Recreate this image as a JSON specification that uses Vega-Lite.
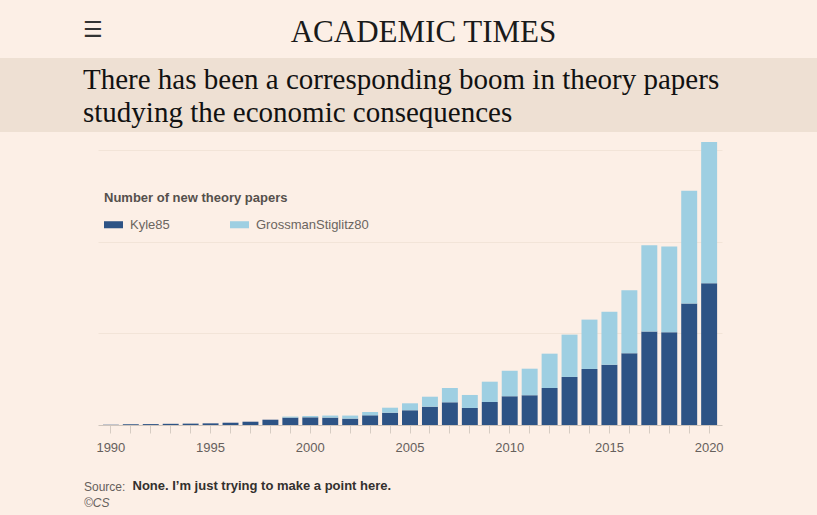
{
  "$schema": "https://vega.github.io/schema/vega-lite/v6.json",
  "background": "#fcefe6",
  "padding": {"left": 0, "right": 0, "top": 0, "bottom": 8},
  "spacing": 0,
  "config": {"view": {"stroke": null}, "font": "Liberation Sans"},
  "datasets": {
    "papers": [
      {"year": 1990, "series": "Kyle85", "k": 0, "papers": 0.3},
      {"year": 1991, "series": "Kyle85", "k": 0, "papers": 0.8},
      {"year": 1992, "series": "Kyle85", "k": 0, "papers": 1.0},
      {"year": 1993, "series": "Kyle85", "k": 0, "papers": 1.3},
      {"year": 1994, "series": "Kyle85", "k": 0, "papers": 1.5},
      {"year": 1995, "series": "Kyle85", "k": 0, "papers": 1.8},
      {"year": 1996, "series": "Kyle85", "k": 0, "papers": 2.5},
      {"year": 1997, "series": "Kyle85", "k": 0, "papers": 3.6},
      {"year": 1998, "series": "Kyle85", "k": 0, "papers": 5.8},
      {"year": 1999, "series": "Kyle85", "k": 0, "papers": 8.1},
      {"year": 2000, "series": "Kyle85", "k": 0, "papers": 8.4},
      {"year": 2001, "series": "Kyle85", "k": 0, "papers": 8.1},
      {"year": 2002, "series": "Kyle85", "k": 0, "papers": 7.0},
      {"year": 2003, "series": "Kyle85", "k": 0, "papers": 10.6},
      {"year": 2004, "series": "Kyle85", "k": 0, "papers": 13.4},
      {"year": 2005, "series": "Kyle85", "k": 0, "papers": 16.1},
      {"year": 2006, "series": "Kyle85", "k": 0, "papers": 20.0},
      {"year": 2007, "series": "Kyle85", "k": 0, "papers": 24.8},
      {"year": 2008, "series": "Kyle85", "k": 0, "papers": 18.6},
      {"year": 2009, "series": "Kyle85", "k": 0, "papers": 25.1},
      {"year": 2010, "series": "Kyle85", "k": 0, "papers": 31.4},
      {"year": 2011, "series": "Kyle85", "k": 0, "papers": 32.5},
      {"year": 2012, "series": "Kyle85", "k": 0, "papers": 40.4},
      {"year": 2013, "series": "Kyle85", "k": 0, "papers": 52.5},
      {"year": 2014, "series": "Kyle85", "k": 0, "papers": 61.2},
      {"year": 2015, "series": "Kyle85", "k": 0, "papers": 65.9},
      {"year": 2016, "series": "Kyle85", "k": 0, "papers": 78.4},
      {"year": 2017, "series": "Kyle85", "k": 0, "papers": 102.0},
      {"year": 2018, "series": "Kyle85", "k": 0, "papers": 101.3},
      {"year": 2019, "series": "Kyle85", "k": 0, "papers": 132.6},
      {"year": 2020, "series": "Kyle85", "k": 0, "papers": 154.9},
      {"year": 1990, "series": "GrossmanStiglitz80", "k": 1, "papers": 0},
      {"year": 1991, "series": "GrossmanStiglitz80", "k": 1, "papers": 0},
      {"year": 1992, "series": "GrossmanStiglitz80", "k": 1, "papers": 0},
      {"year": 1993, "series": "GrossmanStiglitz80", "k": 1, "papers": 0},
      {"year": 1994, "series": "GrossmanStiglitz80", "k": 1, "papers": 0},
      {"year": 1995, "series": "GrossmanStiglitz80", "k": 1, "papers": 0},
      {"year": 1996, "series": "GrossmanStiglitz80", "k": 1, "papers": 0},
      {"year": 1997, "series": "GrossmanStiglitz80", "k": 1, "papers": 0},
      {"year": 1998, "series": "GrossmanStiglitz80", "k": 1, "papers": 0},
      {"year": 1999, "series": "GrossmanStiglitz80", "k": 1, "papers": 1.1},
      {"year": 2000, "series": "GrossmanStiglitz80", "k": 1, "papers": 1.4},
      {"year": 2001, "series": "GrossmanStiglitz80", "k": 1, "papers": 2.2},
      {"year": 2002, "series": "GrossmanStiglitz80", "k": 1, "papers": 3.3},
      {"year": 2003, "series": "GrossmanStiglitz80", "k": 1, "papers": 3.6},
      {"year": 2004, "series": "GrossmanStiglitz80", "k": 1, "papers": 5.5},
      {"year": 2005, "series": "GrossmanStiglitz80", "k": 1, "papers": 7.6},
      {"year": 2006, "series": "GrossmanStiglitz80", "k": 1, "papers": 10.9},
      {"year": 2007, "series": "GrossmanStiglitz80", "k": 1, "papers": 15.6},
      {"year": 2008, "series": "GrossmanStiglitz80", "k": 1, "papers": 14.2},
      {"year": 2009, "series": "GrossmanStiglitz80", "k": 1, "papers": 22.2},
      {"year": 2010, "series": "GrossmanStiglitz80", "k": 1, "papers": 27.9},
      {"year": 2011, "series": "GrossmanStiglitz80", "k": 1, "papers": 29.0},
      {"year": 2012, "series": "GrossmanStiglitz80", "k": 1, "papers": 37.5},
      {"year": 2013, "series": "GrossmanStiglitz80", "k": 1, "papers": 46.2},
      {"year": 2014, "series": "GrossmanStiglitz80", "k": 1, "papers": 53.9},
      {"year": 2015, "series": "GrossmanStiglitz80", "k": 1, "papers": 57.9},
      {"year": 2016, "series": "GrossmanStiglitz80", "k": 1, "papers": 68.8},
      {"year": 2017, "series": "GrossmanStiglitz80", "k": 1, "papers": 94.4},
      {"year": 2018, "series": "GrossmanStiglitz80", "k": 1, "papers": 93.6},
      {"year": 2019, "series": "GrossmanStiglitz80", "k": 1, "papers": 123.1},
      {"year": 2020, "series": "GrossmanStiglitz80", "k": 1, "papers": 154.1}
    ]
  },
  "vconcat": [
    {
      "width": 817,
      "height": 58,
      "data": {"values": [{"name": "ACADEMIC TIMES"}]},
      "title": {
        "text": "☰",
        "anchor": "start",
        "frame": "group",
        "dx": 83,
        "offset": -42,
        "font": "DejaVu Sans",
        "fontSize": 22,
        "fontWeight": "bold",
        "color": "#333333"
      },
      "mark": {
        "type": "text",
        "font": "Liberation Serif",
        "fontSize": 31,
        "color": "#1a1a1a",
        "baseline": "alphabetic",
        "dx": 15,
        "dy": 13
      },
      "encoding": {"text": {"field": "name", "type": "nominal"}}
    },
    {
      "width": 817,
      "height": 74,
      "view": {"fill": "#eee0d3", "stroke": null},
      "data": {"values": [{"t": ""}]},
      "title": {
        "text": [
          "There has been a corresponding boom in theory papers",
          "studying the economic  consequences"
        ],
        "anchor": "start",
        "frame": "group",
        "dx": 83,
        "offset": -70,
        "font": "Liberation Serif",
        "fontSize": 29,
        "fontWeight": "normal",
        "color": "#111111",
        "lineHeight": 33
      },
      "mark": {"type": "text"},
      "encoding": {"text": {"field": "t", "type": "nominal"}}
    },
    {
      "width": 817,
      "height": 293,
      "data": {"name": "papers"},
      "title": {
        "text": "Source:",
        "subtitle": "©CS",
        "orient": "bottom",
        "anchor": "start",
        "frame": "group",
        "dx": 84,
        "offset": -10,
        "font": "Liberation Sans",
        "fontSize": 12,
        "fontWeight": "normal",
        "color": "#66605c",
        "subtitleFont": "Liberation Sans",
        "subtitleFontSize": 12,
        "subtitleFontStyle": "italic",
        "subtitleColor": "#66605c",
        "subtitlePadding": 4
      },
      "mark": {"type": "bar"},
      "encoding": {
        "x": {
          "field": "year",
          "type": "ordinal",
          "scale": {"range": [98, 722], "paddingInner": 0.2, "paddingOuter": 0.245},
          "axis": {
            "title": "None. I’m just trying to make a point here.",
            "titleFont": "Liberation Sans",
            "titleFontSize": 13,
            "titleFontWeight": "bold",
            "titleColor": "#33302e",
            "titleAnchor": "start",
            "titleAlign": "left",
            "titleX": 132,
            "titleY": 64,
            "titleBaseline": "alphabetic",
            "labelExpr": "datum.value % 5 === 0 ? datum.label : ''",
            "labelAngle": 0,
            "labelFont": "Liberation Sans",
            "labelFontSize": 13,
            "labelColor": "#66605c",
            "labelPadding": 8,
            "labelOverlap": false,
            "tickSize": 8,
            "tickColor": "#d6ccc3",
            "domainColor": "#cfc5bc"
          }
        },
        "y": {
          "field": "papers",
          "type": "quantitative",
          "stack": "zero",
          "scale": {"domain": [0, 320], "nice": false},
          "axis": {
            "title": null,
            "values": [100, 200, 300],
            "grid": true,
            "gridColor": "#f2e4d8",
            "labels": false,
            "ticks": false,
            "domain": false
          }
        },
        "color": {
          "field": "series",
          "type": "nominal",
          "scale": {
            "domain": ["Kyle85", "GrossmanStiglitz80"],
            "range": ["#2d5385", "#9ecfe2"]
          },
          "legend": {
            "orient": "none",
            "legendX": 104,
            "legendY": 192,
            "direction": "horizontal",
            "title": "Number of new theory papers",
            "titleFont": "Liberation Sans",
            "titleFontSize": 13,
            "titleFontWeight": "bold",
            "titleColor": "#55504c",
            "titleLimit": 400,
            "titlePadding": 10,
            "labelFont": "Liberation Sans",
            "labelFontSize": 13,
            "labelColor": "#6b6560",
            "labelOffset": 7,
            "columnPadding": 60,
            "padding": 0,
            "symbolType": "M-1,-0.37L1,-0.37L1,0.37L-1,0.37Z",
            "symbolSize": 361,
            "symbolStrokeWidth": 0
          }
        },
        "order": {"field": "k", "type": "quantitative"}
      }
    }
  ]
}
